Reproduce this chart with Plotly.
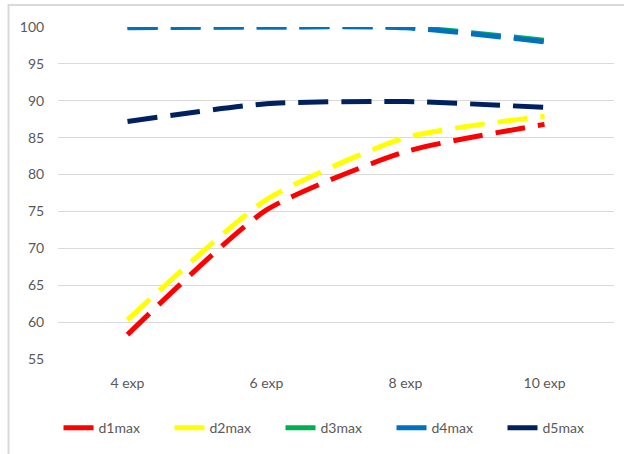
import plotly.graph_objects as go

# Experiment counts on the x axis
categories = ["4 exp", "6 exp", "8 exp", "10 exp"]

# Maximum scores per series
d1max = [58.3, 75.2, 83.1, 86.8]
d2max = [60.3, 76.6, 85.0, 87.9]
d3max = [100.0, 100.0, 100.0, 98.2]
d4max = [99.9, 100.0, 99.9, 98.0]
d5max = [87.2, 89.6, 89.9, 89.1]

series_names = ["d1max", "d2max", "d3max", "d4max", "d5max"]
series_values = [d1max, d2max, d3max, d4max, d5max]
series_colors = ["#FF0000", "#FFFF00", "#00B050", "#0070C0", "#002060"]

y_ticks = [55, 60, 65, 70, 75, 80, 85, 90, 95, 100]

FONT = "Lato, Roboto, sans-serif"
TEXT_COLOR = "#595959"

fig = go.Figure()
for name, vals, color in zip(series_names, series_values, series_colors):
    fig.add_trace(go.Scatter(
        x=categories,
        y=vals,
        name=name,
        mode="lines",
        line=dict(color=color, width=5, dash="30px,13px", shape="spline", smoothing=0.6),
    ))

fig.update_layout(
    width=624,
    height=454,
    margin=dict(l=58, r=10, t=27, b=95),
    paper_bgcolor="white",
    plot_bgcolor="white",
    font=dict(family=FONT, size=14, color=TEXT_COLOR),
    showlegend=True,
    legend=dict(
        orientation="h",
        x=0.5,
        xanchor="center",
        y=-0.208,
        yanchor="middle",
        font=dict(family=FONT, size=14, color=TEXT_COLOR),
        entrywidth=66,
        entrywidthmode="pixels",
        itemwidth=30,
    ),
    xaxis=dict(
        type="category",
        range=[-0.5, 3.5],
        showgrid=False,
        showline=False,
        zeroline=False,
        ticks="outside",
        ticklen=11,
        tickcolor="rgba(0,0,0,0)",
        tickfont=dict(family=FONT, size=14, color=TEXT_COLOR),
    ),
    yaxis=dict(
        range=[55, 100],
        tickvals=y_ticks,
        showgrid=True,
        gridcolor="#D9D9D9",
        gridwidth=1,
        showline=False,
        zeroline=False,
        ticks="outside",
        ticklen=10,
        tickcolor="rgba(0,0,0,0)",
        tickfont=dict(family=FONT, size=14, color=TEXT_COLOR),
    ),
    shapes=[
        # chart frame, open to the right and bottom
        dict(type="rect", xref="paper", yref="paper",
             x0=-0.089, x1=1.06, y0=-0.5, y1=1.066,
             line=dict(color="#D9D9D9", width=2), fillcolor="rgba(0,0,0,0)",
             layer="below"),
    ],
)

fig.write_html("out.html")
